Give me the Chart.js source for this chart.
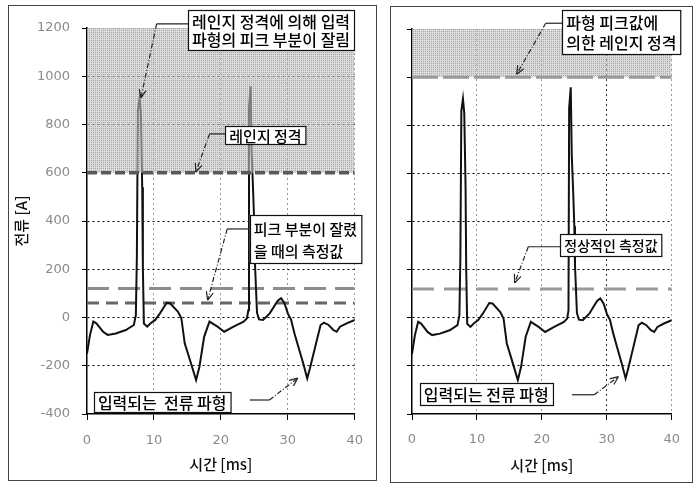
<!DOCTYPE html>
<html>
<head>
<meta charset="utf-8">
<script src="https://cdn.jsdelivr.net/npm/chart.js@4/dist/chart.umd.min.js"></script>
<style>
body { margin: 0; background: #fff; width: 696px; height: 484px; position: relative; overflow: hidden; }
.panel { position: absolute; border: 1px solid #444; box-sizing: border-box; background: #fff; }
#p1 { left: 8px; top: 5px; width: 369px; height: 476px; }
#p2 { left: 390px; top: 6px; width: 303px; height: 477px; }
canvas { position: absolute; left: 0; top: 0; }
</style>
</head>
<body>
<div class="panel" id="p1"><canvas id="left" width="367" height="474"></canvas></div>
<div class="panel" id="p2"><canvas id="right" width="301" height="475"></canvas></div>
<script>
// measured current waveform (ms, A)
const timeMs = [0, 0.45, 0.95, 1.4, 2.4, 3.1, 4.3, 5.8, 7.0, 7.3, 7.45, 7.6, 7.85, 8.05, 8.25, 8.35, 8.5, 9.0, 9.5, 10.2,
  10.9, 11.9, 12.4, 13.6, 14.1, 14.6, 15.3, 16.3, 16.8, 17.5, 18.3, 19.5, 20.5, 21.9, 23.4, 23.9, 24.1, 24.2, 24.45, 24.6,
  24.8, 25.0, 25.1, 25.4, 25.7, 26.3, 27.3, 28.5, 29.0, 29.5, 30.0, 30.5, 31.0, 31.5, 32.3, 32.9, 33.3, 34.1, 34.9, 35.4,
  36.1, 36.8, 37.3, 37.8, 38.8, 40];
const currentA = [-150, -72, -17, -24, -59, -72, -66, -52, -31, 10, 250, 860, 910, 850, 540, 200, -25, -38, -24, -10,
  17, 61, 59, 24, -3, -107, -169, -259, -204, -80, -17, -38, -59, -38, -17, -3, 30, 870, 958, 680,
  540, 380, 220, 20, -8, -10, 17, 70, 80, 59, 17, -10, -66, -114, -190, -252, -211, -121, -31, -21,
  -31, -52, -59, -38, -24, -10];

const xRange = [0, 40];
const yRange = [-400, 1200];
const leftRangeA = 600;     // range rating too low
const rightRangeA = 1000;   // range rating from peak value
const normalReadingA = 120;
const clippedReadingA = 60;

const wave = timeMs.map((t, i) => ({ x: t, y: currentA[i] }));
const flat = v => xRange.map(t => ({ x: t, y: v }));

function dotPattern() {
  const c = document.createElement('canvas');
  c.width = 2; c.height = 2;
  const g = c.getContext('2d');
  g.fillStyle = 'rgba(195,195,195,0.6)';
  g.fillRect(0, 0, 2, 2);
  g.fillStyle = 'rgba(130,130,130,0.6)';
  g.fillRect(0, 0, 1, 1);
  return g.createPattern(c, 'repeat');
}

function calloutPlugin(items) {
  return {
    id: 'callouts',
    afterDraw(chart) {
      const { ctx, scales: { x, y } } = chart;
      const px = p => [x.getPixelForValue(p[0]), y.getPixelForValue(p[1])];
      items.forEach(c => {
        const [sx, sy] = px(c.from), [ex, ey] = px(c.elbow), [tx, ty] = px(c.tip);
        ctx.save();
        ctx.strokeStyle = '#222';
        ctx.lineWidth = 1.2;
        ctx.beginPath(); ctx.moveTo(sx, sy); ctx.lineTo(ex, ey); ctx.stroke();
        ctx.setLineDash([5, 2, 1, 2]);
        ctx.beginPath(); ctx.moveTo(ex, ey); ctx.lineTo(tx, ty); ctx.stroke();
        ctx.setLineDash([]);
        const a = Math.atan2(ty - ey, tx - ex);
        [0.4, -0.4].forEach(d => {
          ctx.beginPath();
          ctx.moveTo(tx, ty);
          ctx.lineTo(tx - 9 * Math.cos(a + d), ty - 9 * Math.sin(a + d));
          ctx.stroke();
        });
        const [bx, by] = px(c.box);
        ctx.font = '500 ' + c.size + 'px "Noto Sans CJK KR"';
        const w = Math.max(...c.lines.map(l => ctx.measureText(l).width)) + 8;
        const h = c.lines.length * c.lineH + 4;
        ctx.fillStyle = '#fff';
        ctx.fillRect(bx, by, w, h);
        ctx.lineWidth = 1.2;
        ctx.strokeStyle = '#111';
        ctx.strokeRect(Math.round(bx) + 0.5, Math.round(by) + 0.5, w, h);
        ctx.fillStyle = '#000';
        ctx.textBaseline = 'middle';
        c.lines.forEach((l, i) => ctx.fillText(l, bx + 4, by + 3 + c.lineH * (i + 0.5)));
        ctx.restore();
      });
    }
  };
}

const tickFont = { family: 'DejaVu Sans', size: 13 };
const titleFont = { family: 'Noto Sans CJK KR', size: 15, weight: '500' };

function makeScales(opt) {
  return {
    x: {
      type: 'linear', min: xRange[0], max: xRange[1],
      ticks: { stepSize: 10, color: '#8a8a8a', font: tickFont, padding: opt.xTickPad, maxRotation: 0 },
      grid: {
        color: c => c.tick.value === 0 ? 'transparent' : (opt.darkX === c.tick.value ? '#333' : '#999'),
        tickColor: '#000', tickLength: 6
      },
      border: { color: '#000', width: 1.5, dash: [2, 3] },
      title: { display: true, text: '시간 [ms]', color: '#111', font: titleFont, padding: { top: 0, bottom: opt.xTitlePad } },
      afterFit: s => { s.height = opt.xHeight; }
    },
    y: {
      min: yRange[0], max: yRange[1],
      ticks: { stepSize: 200, color: '#8a8a8a', font: tickFont, padding: 12, display: opt.yLabels,
        callback: v => String(v) },
      grid: {
        color: c => {
          const v = c.tick.value;
          if (v === yRange[0] || v === opt.hideY) return 'transparent';
          return v === yRange[1] ? '#aaa' : '#000';
        },
        tickColor: '#000', tickLength: 5
      },
      border: { color: '#000', width: 1.5, dash: [2, 3] },
      title: { display: opt.yLabels, text: '전류 [A]', color: '#111', font: titleFont, padding: { top: 3, bottom: 0 } },
      afterFit: s => { s.width = opt.yWidth; }
    }
  };
}

const baseOptions = (scales, pad) => ({
  responsive: false,
  animation: false,
  layout: { padding: pad },
  plugins: { legend: { display: false }, tooltip: { enabled: false } },
  elements: { point: { radius: 0 }, line: { tension: 0 } },
  scales
});

// left panel: range rating at 600 A clips the peaks
new Chart(document.getElementById('left'), {
  type: 'line',
  data: {
    datasets: [
      { data: flat(leftRangeA), fill: { value: yRange[1] }, backgroundColor: dotPattern(),
        borderColor: '#5a5a5a', borderWidth: 3.5, borderDash: [10, 4] },
      { data: wave, borderColor: '#111', borderWidth: 2, fill: false },
      { data: flat(normalReadingA), borderColor: '#8c8c8c', borderWidth: 3, borderDash: [22, 9], fill: false },
      { data: flat(clippedReadingA), borderColor: '#666', borderWidth: 3, borderDash: [12, 7], fill: false }
    ]
  },
  options: baseOptions(makeScales({ xTickPad: 13, xTitlePad: 7, xHeight: 66, yLabels: true, yWidth: 78, hideY: leftRangeA }),
    { top: 22, right: 16, left: 0, bottom: 0 }),
  plugins: [calloutPlugin([
    { lines: ['레인지 정격에 의해 입력', '파형의 피크 부분이 잘림'], size: 16, lineH: 18,
      box: [15.1, 1275], from: [15.1, 1217], elbow: [10.4, 1217], tip: [8.06, 910] },
    { lines: ['레인지 정격'], size: 15, lineH: 14,
      box: [20.66, 794], from: [20.66, 761], elbow: [18.32, 761], tip: [16.26, 603] },
    { lines: ['피크 부분이 잘렸', '을 때의 측정값'], size: 15, lineH: 22,
      box: [24.32, 425], from: [24.32, 367], elbow: [20.95, 367], tip: [18.02, 72] },
    { lines: ['입력되는  전류 파형'], size: 16, lineH: 16,
      box: [1.03, -309], from: [24.32, -342], elbow: [27.25, -342], tip: [31.5, -251] }
  ])]
});

// right panel: range rating from the waveform peak (1000 A)
new Chart(document.getElementById('right'), {
  type: 'line',
  data: {
    datasets: [
      { data: flat(rightRangeA), fill: { value: yRange[1] }, backgroundColor: dotPattern(),
        borderColor: '#999', borderWidth: 3, borderDash: [26, 5] },
      { data: wave, borderColor: '#111', borderWidth: 2, fill: false },
      { data: flat(normalReadingA), borderColor: '#999', borderWidth: 3, borderDash: [22, 10], fill: false }
    ]
  },
  options: baseOptions(makeScales({ xTickPad: 12, xTitlePad: 8, xHeight: 68, yLabels: false, yWidth: 21, hideY: rightRangeA, darkX: 30 }),
    { top: 22, right: 12, left: 0, bottom: 0 }),
  plugins: [calloutPlugin([
    { lines: ['파형 피크값에', '의한 레인지 정격'], size: 16, lineH: 20,
      box: [23.13, 1278], from: [23.13, 1224], elbow: [20.6, 1224], tip: [16.12, 1012] },
    { lines: ['정상적인 측정값'], size: 14, lineH: 18,
      box: [22.84, 348], from: [22.84, 295], elbow: [17.91, 295], tip: [15.82, 145] },
    { lines: ['입력되는 전류 파형'], size: 16, lineH: 18,
      box: [1.19, -270], from: [24.63, -320], elbow: [28.06, -320], tip: [31.79, -245] }
  ])]
});
</script>
</body>
</html>
